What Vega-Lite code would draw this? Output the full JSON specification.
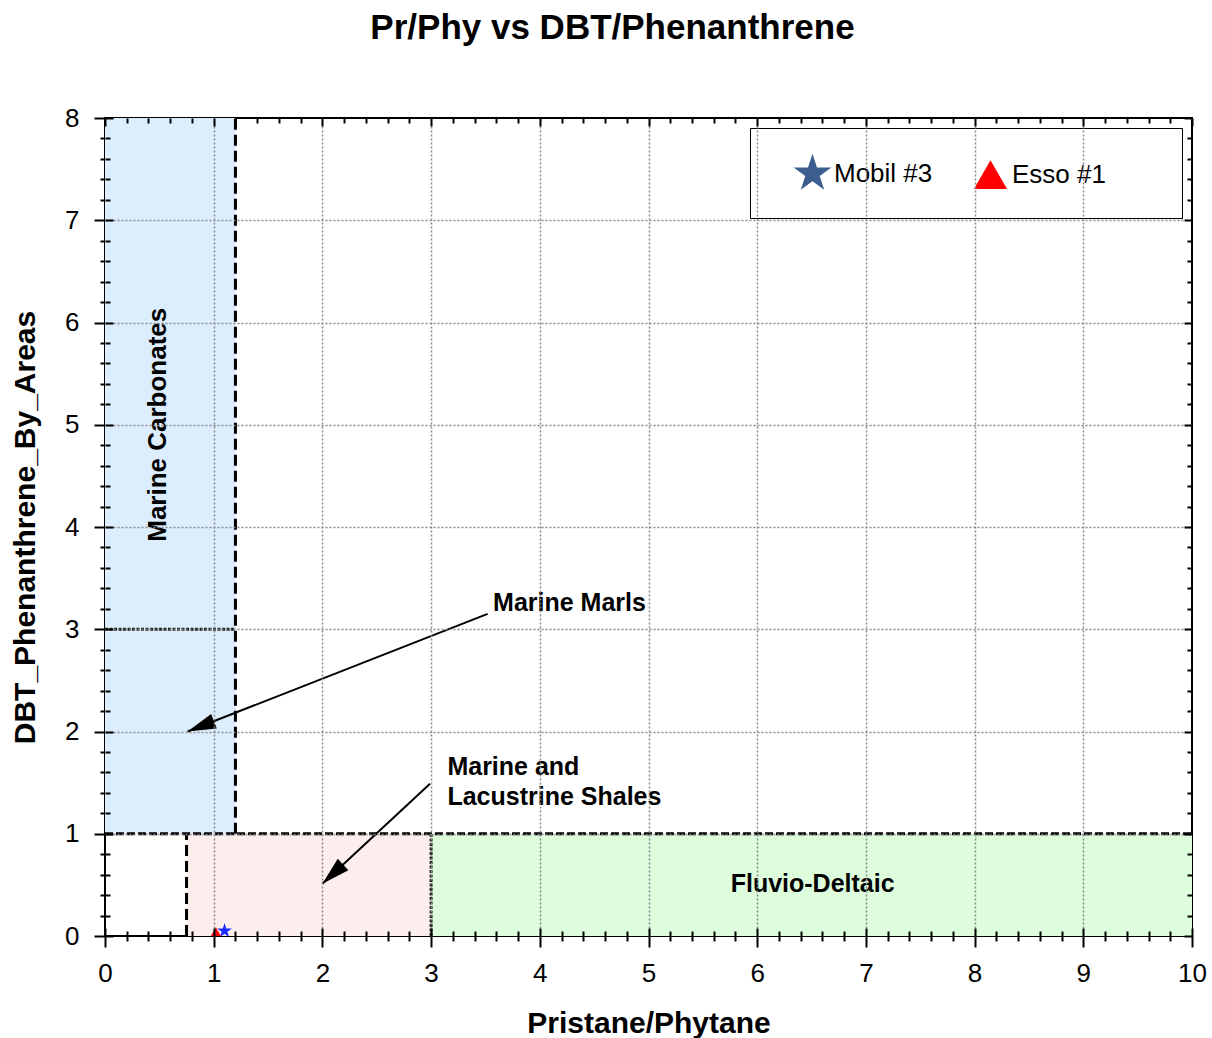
{
  "$schema": "https://vega.github.io/schema/vega-lite/v6.json",
  "autosize": {"type": "none"},
  "padding": {"left": 105, "top": 118, "right": 20, "bottom": 102},
  "width": 1087,
  "height": 818,
  "background": "white",
  "config": {
    "font": "Liberation Sans",
    "view": {"stroke": "black", "strokeWidth": 2}
  },
  "title": {
    "text": "Pr/Phy vs DBT/Phenanthrene",
    "fontSize": 35,
    "fontWeight": "bold",
    "color": "black",
    "anchor": "middle",
    "dx": -36,
    "offset": 59
  },
  "resolve": {"axis": {"x": "independent", "y": "independent"}},
  "layer": [
    {
      "description": "Depositional environment fields",
      "data": {"values": [
        {"region": "Marine Carbonates", "pr_ph_min": 0, "pr_ph_max": 1.2, "dbt_min": 1, "dbt_max": 8},
        {"region": "Marine and Lacustrine Shales", "pr_ph_min": 0.75, "pr_ph_max": 3, "dbt_min": 0, "dbt_max": 1},
        {"region": "Fluvio-Deltaic", "pr_ph_min": 3, "pr_ph_max": 10, "dbt_min": 0, "dbt_max": 1}
      ]},
      "mark": {"type": "rect"},
      "encoding": {
        "x": {"field": "pr_ph_min", "type": "quantitative", "axis": null, "scale": {"domain": [0, 10], "nice": false, "zero": false}},
        "x2": {"field": "pr_ph_max"},
        "y": {"field": "dbt_min", "type": "quantitative", "axis": null, "scale": {"domain": [0, 8], "nice": false, "zero": false}},
        "y2": {"field": "dbt_max"},
        "fill": {
          "field": "region", "type": "nominal", "legend": null,
          "scale": {
            "domain": ["Marine Carbonates", "Marine and Lacustrine Shales", "Fluvio-Deltaic"],
            "range": ["#dcedfd", "#fdeeee", "#ddfddd"]
          }
        }
      }
    },
    {
      "description": "Axis set 1: outward ticks, labels and titles",
      "data": {"values": [{"pr_ph": 0, "dbt_phen": 0}]},
      "mark": {"type": "point", "opacity": 0},
      "encoding": {
        "x": {
          "field": "pr_ph", "type": "quantitative",
          "scale": {"domain": [0, 10], "nice": false, "zero": false},
          "axis": {
            "orient": "bottom",
            "title": "Pristane/Phytane",
            "titleFontSize": 30, "titleFontWeight": "bold", "titleColor": "black", "titlePadding": 22,
            "values": [0,0.2,0.4,0.6,0.8,1,1.2,1.4,1.6,1.8,2,2.2,2.4,2.6,2.8,3,3.2,3.4,3.6,3.8,4,4.2,4.4,4.6,4.8,5,5.2,5.4,5.6,5.8,6,6.2,6.4,6.6,6.8,7,7.2,7.4,7.6,7.8,8,8.2,8.4,8.6,8.8,9,9.2,9.4,9.6,9.8,10],
            "labelExpr": "datum.value % 1 === 0 ? format(datum.value, 'd') : ''",
            "labelFontSize": 26, "labelColor": "black", "labelPadding": 13,
            "labelFlush": false, "labelOverlap": false, "labelBound": false,
            "domain": false, "grid": false,
            "tickColor": "black", "tickWidth": 2,
            "tickSize": {"condition": {"test": "datum.value % 1 === 0", "value": 11}, "value": 5}
          }
        },
        "y": {
          "field": "dbt_phen", "type": "quantitative",
          "scale": {"domain": [0, 8], "nice": false, "zero": false},
          "axis": {
            "orient": "left",
            "title": "DBT_Phenanthrene_By_Areas",
            "titleFontSize": 30, "titleFontWeight": "bold", "titleColor": "black", "titlePadding": 24,
            "values": [0,0.2,0.4,0.6,0.8,1,1.2,1.4,1.6,1.8,2,2.2,2.4,2.6,2.8,3,3.2,3.4,3.6,3.8,4,4.2,4.4,4.6,4.8,5,5.2,5.4,5.6,5.8,6,6.2,6.4,6.6,6.8,7,7.2,7.4,7.6,7.8,8],
            "labelExpr": "datum.value % 1 === 0 ? format(datum.value, 'd') : ''",
            "labelFontSize": 26, "labelColor": "black", "labelPadding": 15,
            "labelFlush": false, "labelOverlap": false, "labelBound": false,
            "domain": false, "grid": false,
            "tickColor": "black", "tickWidth": 2,
            "tickSize": {"condition": {"test": "datum.value % 1 === 0", "value": 11}, "value": 5}
          }
        }
      }
    },
    {
      "description": "Axis set 2: inward ticks and the dotted grid",
      "data": {"values": [{"pr_ph": 0, "dbt_phen": 0}]},
      "mark": {"type": "point", "opacity": 0},
      "encoding": {
        "x": {
          "field": "pr_ph", "type": "quantitative",
          "scale": {"domain": [0, 10], "nice": false, "zero": false},
          "axis": {
            "orient": "bottom", "title": null, "labels": false, "domain": false, "zindex": 1,
            "values": [0,0.2,0.4,0.6,0.8,1,1.2,1.4,1.6,1.8,2,2.2,2.4,2.6,2.8,3,3.2,3.4,3.6,3.8,4,4.2,4.4,4.6,4.8,5,5.2,5.4,5.6,5.8,6,6.2,6.4,6.6,6.8,7,7.2,7.4,7.6,7.8,8,8.2,8.4,8.6,8.8,9,9.2,9.4,9.6,9.8,10],
            "tickColor": "black", "tickWidth": 2,
            "tickSize": {"condition": {"test": "datum.value % 1 === 0", "value": -8}, "value": -5},
            "grid": true, "gridColor": "#8a8a8a", "gridWidth": 1.5, "gridDash": [2, 2],
            "gridOpacity": {"condition": {"test": "datum.value % 1 === 0 && datum.value > 0 && datum.value < 10", "value": 1}, "value": 0}
          }
        },
        "y": {
          "field": "dbt_phen", "type": "quantitative",
          "scale": {"domain": [0, 8], "nice": false, "zero": false},
          "axis": {
            "orient": "left", "title": null, "labels": false, "domain": false, "zindex": 1,
            "values": [0,0.2,0.4,0.6,0.8,1,1.2,1.4,1.6,1.8,2,2.2,2.4,2.6,2.8,3,3.2,3.4,3.6,3.8,4,4.2,4.4,4.6,4.8,5,5.2,5.4,5.6,5.8,6,6.2,6.4,6.6,6.8,7,7.2,7.4,7.6,7.8,8],
            "tickColor": "black", "tickWidth": 2,
            "tickSize": {"condition": {"test": "datum.value % 1 === 0", "value": -8}, "value": -5},
            "grid": true, "gridColor": "#8a8a8a", "gridWidth": 1.5, "gridDash": [2, 2],
            "gridOpacity": {"condition": {"test": "datum.value % 1 === 0 && datum.value > 0 && datum.value < 8", "value": 1}, "value": 0}
          }
        }
      }
    },
    {
      "description": "Axis set 3: mirrored inward ticks on the top and right edges",
      "data": {"values": [{"pr_ph": 0, "dbt_phen": 0}]},
      "mark": {"type": "point", "opacity": 0},
      "encoding": {
        "x": {
          "field": "pr_ph", "type": "quantitative",
          "scale": {"domain": [0, 10], "nice": false, "zero": false},
          "axis": {
            "orient": "top", "title": null, "labels": false, "domain": false, "grid": false, "zindex": 1,
            "values": [0,0.2,0.4,0.6,0.8,1,1.2,1.4,1.6,1.8,2,2.2,2.4,2.6,2.8,3,3.2,3.4,3.6,3.8,4,4.2,4.4,4.6,4.8,5,5.2,5.4,5.6,5.8,6,6.2,6.4,6.6,6.8,7,7.2,7.4,7.6,7.8,8,8.2,8.4,8.6,8.8,9,9.2,9.4,9.6,9.8,10],
            "tickColor": "black", "tickWidth": 2,
            "tickSize": {"condition": {"test": "datum.value % 1 === 0", "value": -8}, "value": -5}
          }
        },
        "y": {
          "field": "dbt_phen", "type": "quantitative",
          "scale": {"domain": [0, 8], "nice": false, "zero": false},
          "axis": {
            "orient": "right", "title": null, "labels": false, "domain": false, "grid": false, "zindex": 1,
            "values": [0,0.2,0.4,0.6,0.8,1,1.2,1.4,1.6,1.8,2,2.2,2.4,2.6,2.8,3,3.2,3.4,3.6,3.8,4,4.2,4.4,4.6,4.8,5,5.2,5.4,5.6,5.8,6,6.2,6.4,6.6,6.8,7,7.2,7.4,7.6,7.8,8],
            "tickColor": "black", "tickWidth": 2,
            "tickSize": {"condition": {"test": "datum.value % 1 === 0", "value": -8}, "value": -5}
          }
        }
      }
    },
    {
      "description": "Heavy dashed field boundaries",
      "data": {"values": [
        {"pr_ph": 1.2, "pr_ph_end": 1.2, "dbt_phen": 1, "dbt_phen_end": 8},
        {"pr_ph": 0.75, "pr_ph_end": 0.75, "dbt_phen": 0, "dbt_phen_end": 1}
      ]},
      "mark": {"type": "rule", "color": "black", "strokeWidth": 3, "strokeDash": [11, 5]},
      "encoding": {
        "x": {"field": "pr_ph", "type": "quantitative", "axis": null, "scale": {"domain": [0, 10], "nice": false, "zero": false}},
        "x2": {"field": "pr_ph_end"},
        "y": {"field": "dbt_phen", "type": "quantitative", "axis": null, "scale": {"domain": [0, 8], "nice": false, "zero": false}},
        "y2": {"field": "dbt_phen_end"}
      }
    },
    {
      "description": "Dashed boundary at DBT/P = 1",
      "data": {"values": [
        {"pr_ph": 0, "pr_ph_end": 10, "dbt_phen": 1, "dbt_phen_end": 1}
      ]},
      "mark": {"type": "rule", "color": "black", "strokeWidth": 3, "strokeDash": [8, 3]},
      "encoding": {
        "x": {"field": "pr_ph", "type": "quantitative", "axis": null, "scale": {"domain": [0, 10], "nice": false, "zero": false}},
        "x2": {"field": "pr_ph_end"},
        "y": {"field": "dbt_phen", "type": "quantitative", "axis": null, "scale": {"domain": [0, 8], "nice": false, "zero": false}},
        "y2": {"field": "dbt_phen_end"}
      }
    },
    {
      "description": "Fine dotted boundaries",
      "data": {"values": [
        {"pr_ph": 0, "pr_ph_end": 1.2, "dbt_phen": 3, "dbt_phen_end": 3},
        {"pr_ph": 3, "pr_ph_end": 3, "dbt_phen": 0, "dbt_phen_end": 1}
      ]},
      "mark": {"type": "rule", "color": "#222222", "strokeWidth": 3, "strokeDash": [3, 1.5]},
      "encoding": {
        "x": {"field": "pr_ph", "type": "quantitative", "axis": null, "scale": {"domain": [0, 10], "nice": false, "zero": false}},
        "x2": {"field": "pr_ph_end"},
        "y": {"field": "dbt_phen", "type": "quantitative", "axis": null, "scale": {"domain": [0, 8], "nice": false, "zero": false}},
        "y2": {"field": "dbt_phen_end"}
      }
    },
    {
      "description": "Leader lines for the callouts",
      "data": {"values": [
        {"pr_ph": 3.52, "dbt_phen": 3.15, "pr_ph_end": 0.76, "dbt_phen_end": 2.0},
        {"pr_ph": 2.99, "dbt_phen": 1.49, "pr_ph_end": 2.0, "dbt_phen_end": 0.51}
      ]},
      "mark": {"type": "rule", "color": "black", "strokeWidth": 2},
      "encoding": {
        "x": {"field": "pr_ph", "type": "quantitative", "axis": null, "scale": {"domain": [0, 10], "nice": false, "zero": false}},
        "x2": {"field": "pr_ph_end"},
        "y": {"field": "dbt_phen", "type": "quantitative", "axis": null, "scale": {"domain": [0, 8], "nice": false, "zero": false}},
        "y2": {"field": "dbt_phen_end"}
      }
    },
    {
      "description": "Arrowhead pointing at Marine Marls",
      "data": {"values": [{"pr_ph": 0.76, "dbt_phen": 2.0}]},
      "mark": {"type": "point", "filled": true, "color": "black", "opacity": 1, "size": 800, "angle": 248.6, "shape": "M0,0L-0.55,2L0.55,2Z"},
      "encoding": {
        "x": {"field": "pr_ph", "type": "quantitative", "axis": null, "scale": {"domain": [0, 10], "nice": false, "zero": false}},
        "y": {"field": "dbt_phen", "type": "quantitative", "axis": null, "scale": {"domain": [0, 8], "nice": false, "zero": false}}
      }
    },
    {
      "description": "Arrowhead pointing at Marine and Lacustrine Shales",
      "data": {"values": [{"pr_ph": 2.0, "dbt_phen": 0.51}]},
      "mark": {"type": "point", "filled": true, "color": "black", "opacity": 1, "size": 800, "angle": 227, "shape": "M0,0L-0.55,2L0.55,2Z"},
      "encoding": {
        "x": {"field": "pr_ph", "type": "quantitative", "axis": null, "scale": {"domain": [0, 10], "nice": false, "zero": false}},
        "y": {"field": "dbt_phen", "type": "quantitative", "axis": null, "scale": {"domain": [0, 8], "nice": false, "zero": false}}
      }
    },
    {
      "description": "Field labels",
      "data": {"values": [
        {"label": "Marine Marls", "pr_ph": 3.57, "dbt_phen": 3.26},
        {"label": "Marine and", "pr_ph": 3.15, "dbt_phen": 1.65},
        {"label": "Lacustrine Shales", "pr_ph": 3.15, "dbt_phen": 1.36}
      ]},
      "mark": {"type": "text", "align": "left", "baseline": "middle", "fontSize": 25, "fontWeight": "bold", "color": "black"},
      "encoding": {
        "x": {"field": "pr_ph", "type": "quantitative", "axis": null, "scale": {"domain": [0, 10], "nice": false, "zero": false}},
        "y": {"field": "dbt_phen", "type": "quantitative", "axis": null, "scale": {"domain": [0, 8], "nice": false, "zero": false}},
        "text": {"field": "label"}
      }
    },
    {
      "description": "Centred field label",
      "data": {"values": [{"label": "Fluvio-Deltaic", "pr_ph": 6.51, "dbt_phen": 0.51}]},
      "mark": {"type": "text", "align": "center", "baseline": "middle", "fontSize": 25, "fontWeight": "bold", "color": "black"},
      "encoding": {
        "x": {"field": "pr_ph", "type": "quantitative", "axis": null, "scale": {"domain": [0, 10], "nice": false, "zero": false}},
        "y": {"field": "dbt_phen", "type": "quantitative", "axis": null, "scale": {"domain": [0, 8], "nice": false, "zero": false}},
        "text": {"field": "label"}
      }
    },
    {
      "description": "Vertical field label",
      "data": {"values": [{"label": "Marine Carbonates", "pr_ph": 0.49, "dbt_phen": 5.0}]},
      "mark": {"type": "text", "align": "center", "baseline": "middle", "angle": 270, "fontSize": 26, "fontWeight": "bold", "color": "black"},
      "encoding": {
        "x": {"field": "pr_ph", "type": "quantitative", "axis": null, "scale": {"domain": [0, 10], "nice": false, "zero": false}},
        "y": {"field": "dbt_phen", "type": "quantitative", "axis": null, "scale": {"domain": [0, 8], "nice": false, "zero": false}},
        "text": {"field": "label"}
      }
    },
    {
      "description": "Legend entries for the oil samples (zero-size marks, the legend carries the key colours)",
      "data": {"values": [
        {"well": "Mobil #3", "pr_ph": 1.1, "dbt_phen": 0.05},
        {"well": "Esso #1", "pr_ph": 1.02, "dbt_phen": 0.03}
      ]},
      "mark": {"type": "point", "filled": true, "opacity": 1, "size": 0},
      "encoding": {
        "x": {"field": "pr_ph", "type": "quantitative", "axis": null, "scale": {"domain": [0, 10], "nice": false, "zero": false}},
        "y": {"field": "dbt_phen", "type": "quantitative", "axis": null, "scale": {"domain": [0, 8], "nice": false, "zero": false}},
        "color": {
          "field": "well", "type": "nominal",
          "scale": {"domain": ["Mobil #3", "Esso #1"], "range": ["#3c5e8f", "#ff0000"]},
          "legend": {
            "orient": "top-right", "offset": 10, "direction": "horizontal",
            "title": " ", "titleOrient": "right", "titlePadding": 48, "titleFontSize": 10,
            "padding": 28, "symbolOffset": 17, "columnPadding": 23, "labelOffset": 4,
            "labelFontSize": 26, "labelColor": "black", "symbolSize": 1100,
            "strokeColor": "black", "fillColor": "white", "cornerRadius": 0,
            "encode": {"legend": {"update": {"strokeWidth": {"value": 2}}}}
          }
        },
        "shape": {
          "field": "well", "type": "nominal",
          "scale": {
            "domain": ["Mobil #3", "Esso #1"],
            "range": ["M0,-1.2L0.27,-0.371L1.141,-0.371L0.436,0.142L0.705,0.971L0,0.458L-0.705,0.971L-0.436,0.142L-1.141,-0.371L-0.27,-0.371Z", "triangle-up"]
          }
        }
      }
    },
    {
      "description": "Oil samples",
      "data": {"values": [
        {"well": "Mobil #3", "pr_ph": 1.1, "dbt_phen": 0.05},
        {"well": "Esso #1", "pr_ph": 1.02, "dbt_phen": 0.03}
      ]},
      "mark": {"type": "point", "filled": true, "opacity": 1, "size": 170, "clip": true},
      "encoding": {
        "x": {"field": "pr_ph", "type": "quantitative", "axis": null, "scale": {"domain": [0, 10], "nice": false, "zero": false}},
        "y": {"field": "dbt_phen", "type": "quantitative", "axis": null, "scale": {"domain": [0, 8], "nice": false, "zero": false}},
        "fill": {"condition": {"test": "datum.well === 'Mobil #3'", "value": "#1a2cff"}, "value": "#ff0000"},
        "shape": {"field": "well", "type": "nominal", "legend": null}
      }
    }
  ]
}
